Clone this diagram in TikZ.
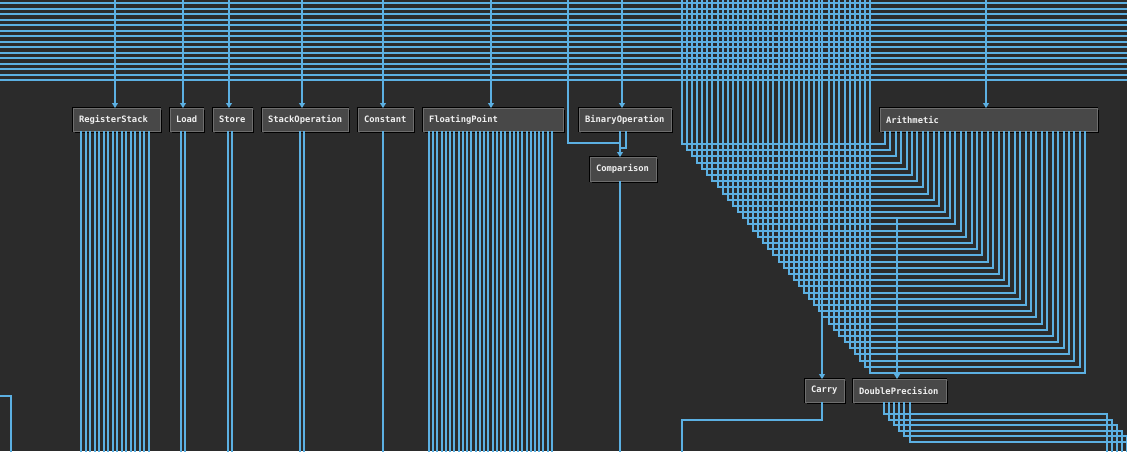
\documentclass[tikz,border=0pt]{standalone}
\usepackage{fontspec}
\newfontfamily\boxfont{DejaVu Sans Mono}
\usetikzlibrary{arrows.meta,shadows}
\definecolor{bg}{HTML}{2B2B2B}
\definecolor{wire}{HTML}{5CB0E2}
\definecolor{wireedge}{HTML}{151111}
\definecolor{boxfill}{HTML}{484848}
\definecolor{boxline}{HTML}{6E6E6E}
\definecolor{boxtext}{HTML}{F0F0F0}
\tikzset{
  wire/.style={draw=wire, line width=1.5pt, preaction={draw=wireedge, line width=2.8pt}},
  tip/.style={-{Triangle[width=6pt,length=5pt]}},
  box/.style={draw=boxline, fill=boxfill, line width=0.8pt, inner xsep=6pt, inner ysep=0pt, outer sep=0pt,
    minimum height=23pt, anchor=north west, font=\boxfont\bfseries\fontsize{8.8}{10}\selectfont, text=boxtext,
    preaction={draw=black, line width=2.4pt},
    general shadow={fill=black, shadow xshift=1.5pt, shadow yshift=-1.5pt}},
}
\newcommand\nbox[6][23]{\node[box, minimum height=#1pt] (#2) at (#3,#4) {\makebox[\dimexpr#5pt-12pt\relax][l]{#6}};}
\begin{document}
\begin{tikzpicture}[x=1pt,y=-1pt]
\useasboundingbox[fill=bg] (0,0) rectangle (1127,451);
% nodes
\nbox{RS}{73}{108}{87}{RegisterStack}
\nbox{LD}{170}{108}{33}{Load}
\nbox{ST}{213}{108}{39}{Store}
\nbox{SO}{262}{108}{86}{StackOperation}
\nbox{CO}{358}{108}{55}{Constant}
\nbox{FP}{423}{108}{140}{FloatingPoint}
\nbox{BO}{579}{108}{92}{BinaryOperation}
\nbox[24]{CM}{590}{157}{66}{Comparison}
\nbox{AR}{880}{108}{217}{Arithmetic}
\nbox{CA}{805}{379}{39}{Carry}
\nbox{DP}{853}{379}{93}{DoublePrecision}
% top horizontal bundle
\foreach \i in {0,...,14}{
  \pgfmathsetmacro\yy{round(3+5.5*\i)}
  \draw[wire] (0,\yy) -- (1127,\yy);
}
% incoming arrows from above
\foreach \n/\o in {RS/42,LD/13,ST/16,SO/40,CO/25,FP/68,BO/43,AR/106}{
  \draw[wire,tip] ([xshift=\o pt]\n.north west) ++(0,-110) -- ([xshift=\o pt]\n.north west);
}
% BinaryOperation -> Comparison
\draw[wire,tip] (568,0) -- (568,143) -- (620,143) -- ([xshift=30pt]CM.north west);
\draw[wire] ([xshift=41pt]BO.south west) -- (620,143);
\draw[wire] ([xshift=47pt]BO.south west) -- (626,148) -- (620,148);
% staircase bundle into Arithmetic
\foreach \i in {0,...,37}{
  \pgfmathsetmacro\xl{round(682+5.08*\i)}
  \pgfmathsetmacro\yc{round(144+6.19*\i)}
  \pgfmathsetmacro\xo{round(5+5.41*\i)}
  \pgfmathsetmacro\xr{880+\xo}
  \ifnum\i=28
    \draw[wire] ([xshift=\xo pt]AR.south west) -- (\xr,\yc) -- (822,\yc);
  \else\ifnum\i=12
    \draw[wire] ([xshift=\xo pt]AR.south west) -- (\xr,\yc) -- (897,\yc);
  \else
    \draw[wire] (\xl,0) -- (\xl,\yc) -- (\xr,\yc) -- ([xshift=\xo pt]AR.south west);
  \fi\fi
}
\pgfmathsetmacro\xlD{round(682+5.08*12)}
\pgfmathsetmacro\ycD{round(144+6.19*12)}
\draw[wire,tip] (\xlD,0) -- (\xlD,\ycD) -- (897,\ycD) -- ([xshift=44pt]DP.north west);
\draw[wire,tip] (822,0) -- ([xshift=17pt]CA.north west);
% outgoing lines below nodes
\foreach \k in {0,...,15}{
  \pgfmathsetmacro\o{round(8+4.53*\k)}
  \draw[wire] ([xshift=\o pt]RS.south west) -- ++(0,330);
}
\foreach \n/\o in {LD/11,LD/15,ST/15,ST/19,SO/38,SO/42,CO/25,CM/30}{
  \draw[wire] ([xshift=\o pt]\n.south west) -- ++(0,330);
}
\foreach \k in {0,...,29}{
  \pgfmathsetmacro\o{round(6+4.24*\k)}
  \draw[wire] ([xshift=\o pt]FP.south west) -- ++(0,330);
}
% Carry out
\coordinate (carryout) at (682,460);
\draw[wire] ([xshift=17pt]CA.south west) -- (822,420) -- (682,420) -- (carryout);
% DoublePrecision out
\foreach \k in {0,...,5}{
  \pgfmathsetmacro\o{round(31+5.1*\k)}
  \pgfmathsetmacro\yh{round(414+5.5*\k)}
  \pgfmathsetmacro\xh{1107+5*\k}
  \draw[wire] ([xshift=\o pt]DP.south west) |- (\xh,\yh) -- (\xh,460);
}
% left edge
\coordinate (leftin) at (-5,396);
\draw[wire] (leftin) -- (11,396) -- (11,460);
\end{tikzpicture}
\end{document}
